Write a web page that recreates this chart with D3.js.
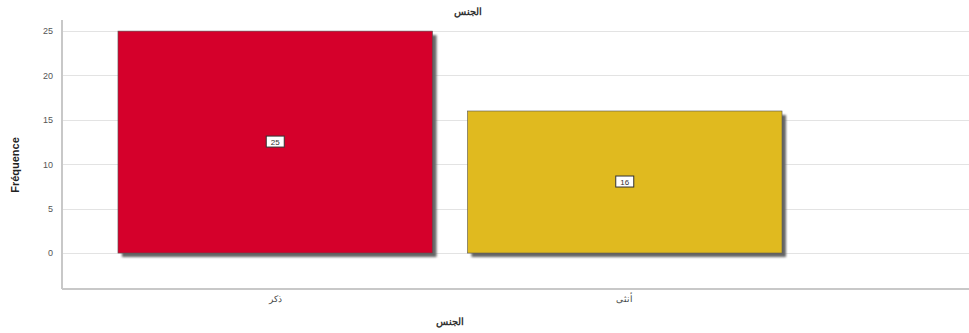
<!DOCTYPE html>
<html><head><meta charset="utf-8">
<script src="https://cdn.jsdelivr.net/npm/d3@7"></script>
<style>body{margin:0;background:#fff}svg{display:block;font-family:"Liberation Sans",Arial,sans-serif}</style>
</head><body><svg id="c" width="969" height="333"></svg>
<script>
const categories = ["ذكر", "أنثى"];
const values = [25, 16];
const colors = ["#D5002B", "#E0BA1F"];
const yTicks = [0, 5, 10, 15, 20, 25];
const title = "الجنس";
const xTitle = "الجنس";
const yTitle = "Fréquence";

(function () {
const svg = d3.select("#c");
const mLeft = 62, mRight = 969, mTop = 20, mBottom = 289;
const y = d3.scaleLinear().domain([-4.05, 26.25]).range([mBottom, mTop]);
const x = d3.scaleBand().domain(categories).range([100.5, 799.5]).paddingInner(0.1).paddingOuter(0.05);

const defs = svg.append("defs");
defs.append("filter").attr("id", "blur").append("feGaussianBlur").attr("stdDeviation", 0.8);

// gridlines
svg.append("g").selectAll("line").data(yTicks).join("line")
  .attr("x1", mLeft).attr("x2", mRight)
  .attr("y1", d => Math.round(y(d)) + 0.5).attr("y2", d => Math.round(y(d)) + 0.5)
  .attr("stroke", "#e3e3e3").attr("stroke-width", 1.2);

// y axis
const ya = svg.append("g").attr("transform", `translate(${mLeft},0)`)
  .call(d3.axisLeft(y).tickValues(yTicks).tickSize(0).tickPadding(9));
ya.select(".domain").remove();
ya.selectAll("text").attr("fill", "#555").attr("font-size", 9);
svg.append("line").attr("x1", mLeft).attr("x2", mLeft).attr("y1", mTop).attr("y2", mBottom)
  .attr("stroke", "#c8c8c8").attr("stroke-width", 2);
svg.append("line").attr("x1", mLeft).attr("x2", mRight).attr("y1", mBottom).attr("y2", mBottom)
  .attr("stroke", "#c8c8c8").attr("stroke-width", 2);

// shadows
svg.append("g").attr("filter", "url(#blur)").selectAll("rect").data(values).join("rect")
  .attr("x", (d, i) => x(categories[i]) + 4).attr("y", d => y(d) + 4)
  .attr("width", x.bandwidth()).attr("height", d => y(0) - y(d))
  .attr("fill", "#666");
// bars
svg.append("g").selectAll("rect").data(values).join("rect")
  .attr("x", (d, i) => x(categories[i])).attr("y", d => y(d))
  .attr("width", x.bandwidth()).attr("height", d => y(0) - y(d))
  .attr("fill", (d, i) => colors[i]).attr("stroke", "#555").attr("stroke-width", 0.6);

// data labels
const lbl = svg.append("g").selectAll("g").data(values).join("g")
  .attr("transform", (d, i) => `translate(${x(categories[i]) + x.bandwidth() / 2},${y(d / 2)})`);
lbl.append("rect").attr("x", -9).attr("y", -6).attr("width", 18).attr("height", 11)
  .attr("fill", "#fff").attr("stroke", "#333").attr("stroke-width", 1);
lbl.append("text").attr("text-anchor", "middle").attr("y", 3).attr("font-size", 8)
  .attr("fill", "#333").text(d => d);

// x tick labels
svg.append("g").selectAll("text").data(categories).join("text")
  .attr("x", d => x(d) + x.bandwidth() / 2).attr("y", 302)
  .attr("text-anchor", "middle").attr("font-size", 9).attr("fill", "#444").text(d => d);

// titles
svg.append("text").attr("x", 468).attr("y", 15).attr("text-anchor", "middle")
  .attr("font-size", 10).attr("font-weight", "bold").attr("fill", "#333").text(title);
svg.append("text").attr("x", 450).attr("y", 325).attr("text-anchor", "middle")
  .attr("font-size", 10).attr("font-weight", "bold").attr("fill", "#333").text(xTitle);
svg.append("text").attr("transform", "translate(19,165) rotate(-90)").attr("text-anchor", "middle")
  .attr("font-size", 11).attr("font-weight", "bold").attr("fill", "#222").text(yTitle);
})();
</script></body></html>
